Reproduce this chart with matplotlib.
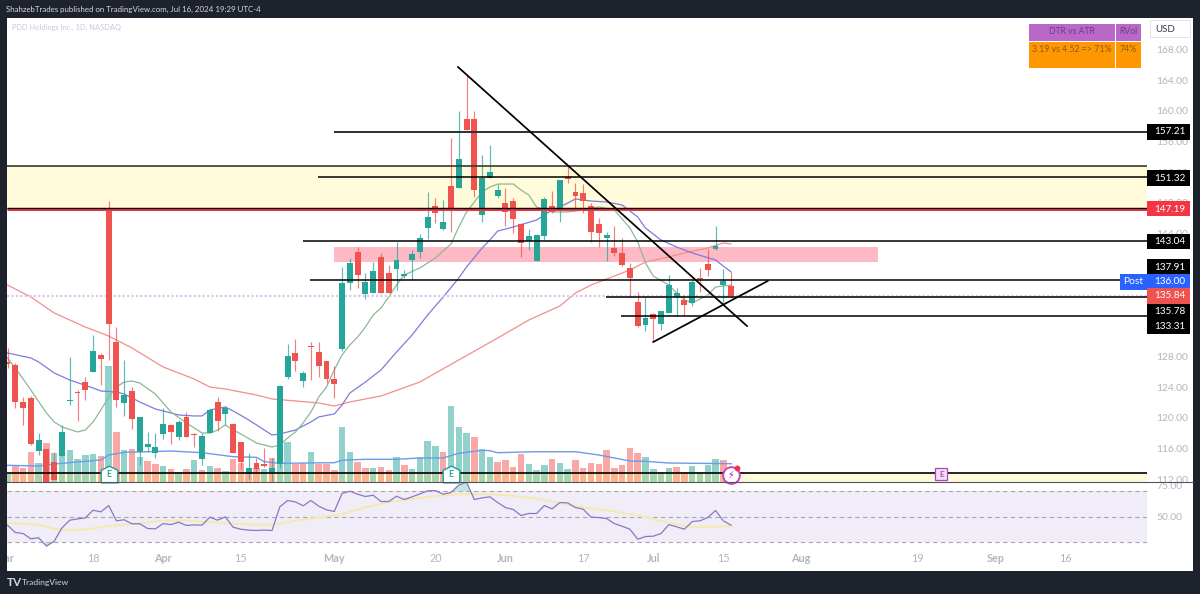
import matplotlib
matplotlib.use("Agg")
import matplotlib.pyplot as plt
from matplotlib.patches import Rectangle
from matplotlib.path import Path as MplPath

W, H = 1200, 594
UP = "#26a69a"
DOWN = "#ef5350"
GREY = "#b2b5be"
DARK = "#1e222d"

bars = list(range(-1, 93))
highs = [129.11, 127.16, 122.73, 122.86, 118.05, 115.96, 115.57, 119.09, 127.94, 123.64,
         125.34, 130.80, 128.46, 148.25, 131.84, 127.55, 124.03, 120.13, 118.18, 118.05,
         121.30, 119.22, 119.74, 120.78, 118.05, 118.05, 121.17, 122.73, 121.56, 119.35,
         116.87, 115.44, 114.79, 116.09, 114.79, 124.29, 129.63, 130.28, 126.12, 129.89,
         129.89, 127.42, 126.77, 139.66, 140.83, 142.26, 138.88, 140.31, 141.48, 139.92,
         142.91, 139.27, 141.87, 143.95, 149.42, 148.64, 148.38, 156.45, 159.97, 164.65,
         159.97, 154.24, 155.54, 150.46, 149.94, 148.64, 145.38, 144.60, 143.95, 148.77,
         149.55, 150.98, 152.81, 150.59, 150.46, 147.99, 146.04, 144.21, 144.99, 143.43,
         140.18, 136.40, 135.75, 133.67, 133.93, 138.62, 136.92, 136.01, 137.96, 139.53,
         142.00, 144.99, 139.40, 139.01]
lows = [126.51, 121.30, 119.09, 116.48, 115.18, 111.66, 111.92, 115.05, 121.69, 119.61,
        122.34, 125.99, 124.29, 127.55, 121.43, 120.26, 118.57, 113.88, 115.57, 114.79,
        117.26, 116.61, 117.13, 117.52, 116.22, 113.88, 118.05, 118.30, 119.09, 115.44,
        113.36, 112.06, 112.84, 113.62, 111.66, 113.49, 125.07, 126.12, 124.03, 124.94,
        125.34, 124.55, 122.60, 128.72, 136.66, 136.92, 135.49, 136.27, 136.27, 136.27,
        136.66, 138.22, 137.96, 140.83, 143.30, 145.38, 144.47, 144.21, 149.94, 157.49,
        148.77, 145.52, 151.24, 148.64, 144.99, 144.08, 140.96, 141.87, 140.44, 143.17,
        146.69, 145.52, 150.59, 147.08, 146.69, 142.91, 142.26, 140.44, 141.09, 139.79,
        135.75, 131.84, 131.32, 129.89, 131.45, 133.67, 133.28, 133.41, 134.58, 136.40,
        138.48, 141.87, 134.97, 135.75]
opens = [127.29, 126.90, 122.08, 122.60, 115.70, 115.96, 114.27, 115.05, 122.21, 123.38,
         124.68, 125.99, 128.20, 147.34, 129.89, 121.95, 123.51, 115.57, 116.22, 115.44,
         117.91, 119.09, 117.52, 120.13, 117.91, 114.66, 118.05, 122.08, 120.52, 119.22,
         116.87, 112.71, 114.14, 114.01, 112.97, 114.01, 125.34, 128.46, 124.81, 129.37,
         128.59, 127.42, 125.07, 128.98, 137.57, 141.61, 136.14, 136.27, 140.96, 138.88,
         139.40, 138.48, 140.57, 141.61, 144.73, 147.60, 144.60, 150.20, 149.94, 158.93,
         158.93, 146.43, 151.24, 148.90, 147.99, 148.25, 145.25, 143.04, 140.44, 143.69,
         147.60, 147.21, 151.37, 149.42, 149.29, 147.60, 145.25, 143.43, 142.13, 141.48,
         139.53, 135.10, 132.10, 133.54, 132.23, 133.67, 135.75, 135.36, 134.97, 138.22,
         140.05, 142.00, 137.31, 137.18]
closes = [127.03, 122.08, 121.30, 116.61, 117.13, 111.66, 111.92, 118.18, 122.34, 123.25,
          123.64, 128.72, 127.68, 132.23, 122.34, 122.99, 119.87, 120.13, 116.61, 116.22,
          119.22, 118.18, 119.48, 117.52, 117.78, 117.65, 121.04, 119.61, 121.30, 115.44,
          114.27, 113.49, 113.36, 113.75, 113.49, 124.16, 128.07, 127.42, 125.86, 129.24,
          126.77, 125.07, 124.42, 137.57, 140.18, 138.62, 137.70, 139.14, 136.27, 136.27,
          140.57, 138.74, 141.35, 143.43, 146.17, 146.69, 145.52, 147.08, 153.72, 157.49,
          149.68, 151.24, 152.03, 149.68, 146.82, 145.91, 142.78, 143.69, 143.82, 148.51,
          146.82, 150.98, 151.11, 148.90, 148.25, 144.21, 144.08, 143.82, 141.48, 139.92,
          138.22, 131.97, 133.02, 132.89, 133.93, 137.31, 136.27, 134.71, 137.70, 138.09,
          139.27, 142.39, 137.83, 135.84]

# volume in relative units, colour read per bar since it does not follow the candle
volumes = [8, 16, 14, 30, 19, 39, 29, 29, 32, 23, 27, 28, 26, 116, 50, 32, 33, 25, 21, 18,
           16, 13, 10, 13, 22, 12, 16, 14, 11, 23, 19, 10, 14, 13, 24, 19, 40, 18, 19, 30,
           18, 18, 12, 55, 30, 20, 14, 14, 15, 12, 25, 17, 13, 25, 41, 36, 30, 76, 55, 49,
           45, 33, 25, 20, 22, 15, 28, 18, 12, 17, 23, 19, 13, 22, 14, 19, 18, 32, 14, 17,
           34, 29, 25, 13, 10, 14, 15, 10, 16, 10, 17, 23, 22, 6]
volume_sides = list("grrrgrgggg" "ggrgrgrgrr" "grgrgrgrgr" "rrrgrggrrg" "rrrggrrgrr"
                    "grggggrggg" "rggrrrrggg" "rggrrrrrrr" "rrggggrrgg" "ggrr")

vol_ma_bars = [-1, 3, 5, 11, 12, 14, 17, 20, 24, 28, 31, 32, 34, 41, 42, 45, 49, 52, 55, 57,
               60, 61, 62, 67, 72, 75, 79, 81, 84, 92]
vol_ma = [16.7, 16, 18, 22, 27, 29.7, 30.3, 31, 29.3, 25.3, 24.7, 20.3, 18.7, 19.3, 21.7,
          22.7, 22.7, 24, 24, 28.7, 31.7, 31.3, 29.3, 30.3, 30.3, 27, 21, 20.7, 19, 18.3]

fast_ma_bars = [-1, 0, 2, 4, 5, 6, 8, 9, 10, 11, 12, 13, 14, 15, 16, 18, 20, 22, 24, 25, 26, 27,
                28, 29, 31, 33, 34, 35, 36, 37, 38, 39, 40, 41, 42, 43, 44, 45, 46, 47, 48, 49,
                50, 52, 54, 56, 57, 58, 60, 61, 62, 64, 65, 66, 67, 69, 71, 72, 75, 77, 79, 80,
                81, 82, 84, 85, 86, 87, 89, 90, 92]
fast_ma = [127.81, 126.51, 123.64, 120.65, 119.48, 118.83, 118.18, 118.43, 119.48, 121.04,
           122.73, 124.03, 124.68, 124.81, 124.55, 123.12, 120.78, 119.35, 118.04, 118.04,
           118.43, 119.09, 118.43, 117.91, 116.74, 116.22, 116.48, 117.39, 118.17, 119.35,
           120.78, 122.73, 124.03, 126.25, 128.20, 129.50, 130.54, 131.84, 133.41, 134.32,
           135.75, 137.31, 138.62, 139.53, 140.83, 142.65, 144.86, 146.82, 149.42, 150.07,
           150.46, 150.46, 149.68, 149.03, 147.47, 146.82, 146.82, 146.95, 147.47, 147.08,
           144.73, 142.91, 140.18, 138.48, 137.31, 136.27, 135.36, 134.97, 136.01, 137.05,
           137.31]

mid_ma_bars = [-1, 2, 3, 5, 7, 10, 11, 13, 14, 16, 18, 21, 23, 24, 25, 27, 28, 30, 32, 33, 34,
               36, 38, 39, 41, 42, 43, 45, 47, 49, 51, 53, 55, 57, 58, 60, 61, 62, 64, 67, 69,
               70, 72, 74, 76, 78, 80, 81, 83, 85, 87, 90, 92]
mid_ma = [128.46, 127.81, 127.29, 125.86, 124.94, 123.90, 123.51, 123.38, 123.12, 122.08,
          121.17, 120.39, 120.26, 120.26, 121.04, 121.43, 120.91, 119.74, 118.43, 117.78,
          117.91, 118.43, 119.48, 120.13, 120.52, 121.69, 123.25, 124.68, 126.25, 128.59,
          130.80, 133.41, 135.75, 138.22, 139.66, 142.13, 143.17, 144.34, 144.86, 145.77,
          147.08, 147.47, 148.51, 148.25, 148.12, 147.73, 146.17, 144.73, 143.17, 142.26,
          141.48, 140.57, 139.01]

slow_ma_bars = [-1, 2, 5, 9, 12, 15, 19, 23, 25, 27, 31, 33, 36, 39, 41, 43, 47, 52, 57, 62, 66,
                70, 72, 74, 76, 79, 81, 84, 86, 89, 91, 92]
slow_ma = [137.31, 135.75, 133.67, 131.84, 130.67, 129.11, 126.64, 125.07, 124.03, 123.77,
           122.99, 122.47, 122.21, 121.95, 121.56, 122.08, 122.86, 124.68, 127.55, 130.41,
           132.75, 134.58, 136.27, 137.31, 138.09, 139.27, 140.31, 140.96, 141.48, 142.13,
           142.78, 142.65]

rsi = [43.1, 37.3, 36.5, 32.3, 33.1, 26.5, 30.4, 41.0, 47.1, 48.1, 48.9, 55.0, 53.7, 58.7,
       46.6, 47.4, 44.2, 44.2, 40.5, 40.2, 44.4, 43.6, 45.5, 42.9, 43.4, 43.1, 49.5, 47.1,
       49.7, 41.5, 39.9, 39.2, 38.9, 39.2, 38.9, 57.7, 62.7, 61.6, 58.5, 62.7, 58.2, 55.3,
       54.0, 68.3, 70.1, 67.7, 65.9, 66.9, 61.9, 61.9, 66.1, 63.5, 65.6, 68.0, 70.4, 70.6,
       67.7, 69.1, 74.9, 77.3, 63.5, 64.8, 65.6, 61.1, 57.1, 55.6, 50.8, 52.4, 52.4, 58.7,
       56.1, 61.1, 60.8, 57.1, 55.8, 49.5, 49.2, 48.4, 44.4, 42.3, 39.9, 32.0, 34.1, 34.4,
       36.5, 43.6, 41.8, 39.9, 46.0, 46.6, 49.2, 54.8, 46.6, 43.1]
rsi_ma_bars = [-1, 3, 5, 7, 9, 12, 15, 19, 22, 26, 30, 33, 36, 39, 42, 45, 48, 50, 53, 57, 61,
               64, 68, 72, 76, 80, 84, 87, 90, 92]
rsi_ma = [45.0, 43.4, 40.2, 38.9, 39.7, 42.3, 44.2, 46.6, 46.8, 45.2, 43.6, 43.4, 46.6, 49.2,
          51.9, 57.4, 61.6, 63.0, 65.6, 67.7, 67.7, 66.4, 63.2, 58.2, 54.8, 51.1, 45.0, 41.8,
          41.8, 42.6]

# drawings on the chart
level_prices = [157.21, 151.32, 143.04, 137.91, 135.78, 133.31]
level_starts = [41.0, 38.9, 37.0, 37.9, 75.9, 77.8]
zone_top = 152.8
zone_bottom = 147.19
low_zone_top = 112.8
pink_top, pink_bottom = 142.26, 140.31
pink_start, pink_end = 41.0, 110.9
down_trend_x, down_trend_y = [56.9, 94.05], [165.7, 131.97]
up_trend_x, up_trend_y = [82, 96.7], [129.89, 137.83]
last_close = 135.84
earnings_bars = [12, 56]
next_earnings_bar = 119

# 132, 136 and 140 sit fully behind the tags in the reference
price_ticks = [112, 116, 120, 124, 128, 144, 148, 152, 156, 160, 164, 168]
rsi_ticks = [50, 75]
time_ticks = [-1.4, 10, 19, 29, 41, 54, 63, 73, 82, 91, 101, 116, 126, 135]
time_labels = ["Mar", "18", "Apr", "15", "May", "20", "Jun", "17", "Jul", "15", "Aug", "19", "Sep", "16"]
month_labels = {"Mar", "Apr", "May", "Jun", "Jul", "Aug", "Sep"}

# stacked tags on the price scale
tag_texts = ["157.21", "151.32", "147.19", "143.04", "137.91", "136.00", "135.84", "135.78", "133.31"]
tag_colors = ["#000000", "#000000", "#f23645", "#000000", "#000000", "#2962ff", "#ef5350", "#000000", "#000000"]
tag_rows = [132, 178, 209, 242, 267, 282, 296, 311, 326]

plt.rcParams["font.family"] = ["Lato", "DejaVu Sans"]

fig = plt.figure(figsize=(12, 5.94), dpi=100, facecolor=DARK)


def rect_fig(x0, y0, x1, y1):
    return [x0 / W, 1 - y1 / H, (x1 - x0) / W, (y1 - y0) / H]


def fig_box(x0, y0, x1, y1, color, z=5, edge="none", lw=0):
    fig.add_artist(Rectangle((x0 / W, 1 - y1 / H), (x1 - x0) / W, (y1 - y0) / H, transform=fig.transFigure,
                             facecolor=color, edgecolor=edge, linewidth=lw, zorder=z))


def fig_label(x, y, s, color, size=7.1, ha="center", z=6, **kw):
    fig.text(x / W, 1 - y / H, s, color=color, fontsize=size, ha=ha, va="center", zorder=z, **kw)


fig_box(7, 18, 1193, 571, "white", z=-1)

# axes: pixel rows 18-482 for the price pane, 482-571 for rsi + time labels
X_LEFT, X_RIGHT = -1.067, 145.46
ax_vol = fig.add_axes(rect_fig(7, 18, 1147, 482), zorder=1)
ax = fig.add_axes(rect_fig(7, 18, 1147, 482), zorder=2)
ax_rsi = fig.add_axes(rect_fig(7, 482, 1147, 571), zorder=2)
for a in (ax_vol, ax, ax_rsi):
    a.patch.set_visible(False)
    for s in a.spines.values():
        s.set_visible(False)
    a.set_xlim(X_LEFT, X_RIGHT)
    a.set_xticks([])

ax_vol.set_ylim(0, 464)
ax_vol.set_yticks([])
vol_colors = ["#92d2cc" if s == "g" else "#f9a8a6" for s in volume_sides]
ax_vol.bar(bars, volumes, width=0.83, color=vol_colors, linewidth=0)
ax_vol.plot(vol_ma_bars, vol_ma, color="#6c9cec", lw=1.0)

ax.set_ylim(111.66, 172.08)
ax.yaxis.tick_right()
ax.set_yticks(price_ticks)
ax.set_yticklabels([f"{p:.2f}" for p in price_ticks])
ax.tick_params(axis="y", length=0, pad=6.5, labelsize=7.4, labelcolor=GREY)

ax.axhspan(zone_bottom, zone_top, color="#ffeb3b", alpha=0.18, lw=0, zorder=1)
ax.axhspan(111.66, low_zone_top, color="#ffeb3b", alpha=0.18, lw=0, zorder=1)
ax.fill_between([pink_start, pink_end], pink_bottom, pink_top, color="#fdb9c4", lw=0, zorder=1)

ax.plot(slow_ma_bars, slow_ma, color="#f08f8d", lw=0.9, zorder=2)
ax.plot(mid_ma_bars, mid_ma, color="#7f7be0", lw=0.9, zorder=2)
ax.plot(fast_ma_bars, fast_ma, color="#8db896", lw=0.9, zorder=2)

candle_colors = [UP if c >= o else DOWN for o, c in zip(opens, closes)]
ax.vlines(bars, lows, highs, colors=candle_colors, lw=0.85, alpha=0.75, zorder=3)
ax.bar(bars, [max(abs(c - o), 0.12) for o, c in zip(opens, closes)], bottom=[min(o, c) for o, c in zip(opens, closes)],
       width=0.76, color=candle_colors, linewidth=0, zorder=4)

ax.hlines(last_close, X_LEFT, X_RIGHT, colors="#d6c8e6", lw=1.6, linestyles=(0, (1, 1)), zorder=2)
ax.hlines(level_prices, level_starts, X_RIGHT, colors="black", lw=1.1, zorder=6)
ax.hlines(level_prices[0], level_starts[0], X_RIGHT, colors="#333333", lw=1.4, zorder=6)
ax.hlines(zone_top, X_LEFT, X_RIGHT, colors="#3a3a30", lw=1.2, zorder=6)
ax.hlines(zone_bottom, X_LEFT, X_RIGHT, colors="#f23645", lw=2.2, zorder=6)
ax.hlines(zone_bottom + 0.16, X_LEFT, X_RIGHT, colors="black", lw=1.0, zorder=7)
ax.hlines(low_zone_top, X_LEFT, X_RIGHT, colors="black", lw=1.2, zorder=6)
ax.plot(down_trend_x, down_trend_y, color="black", lw=1.25, zorder=7)
ax.plot(up_trend_x, up_trend_y, color="black", lw=1.25, zorder=7)

# event markers along the bottom of the price pane
house = MplPath([(-1, -1), (1, -1), (1, 0.5), (0, 1), (-1, 0.5), (-1, -1)])
for b in earnings_bars:
    ax.plot([b], [112.7], marker=house, ms=12, mfc="white", mec=UP, mew=1.1, zorder=8, clip_on=False)
    ax.text(b, 112.7, "E", color=UP, fontsize=6.5, fontweight="bold", ha="center", va="center", zorder=9)
ax.plot([next_earnings_bar], [112.7], marker="s", ms=8.5, mfc="#f3e0f7", mec="#ab47bc", mew=0.9, zorder=8)
ax.text(next_earnings_bar, 112.7, "E", color="#8e24aa", fontsize=6, ha="center", va="center", zorder=9)
ax.plot([92], [112.55], marker="o", ms=12, mfc="white", mec="#c048c8", mew=1.4, zorder=8, clip_on=False)
ax.text(92, 112.55, "\u26a1", color="#8e24aa", fontsize=7, family="DejaVu Sans", ha="center", va="center", zorder=9)
ax.plot([92.8], [113.45], marker="o", ms=3.2, color="#ef2f4f", zorder=9)

ax_rsi.set_ylim(6.75, 77.4)
ax_rsi.yaxis.tick_right()
ax_rsi.set_yticks(rsi_ticks)
ax_rsi.set_yticklabels([f"{r:.2f}" for r in rsi_ticks])
ax_rsi.tick_params(axis="y", length=0, pad=6.5, labelsize=7.4, labelcolor=GREY)
ax_rsi.axhspan(30, 70, color="#f0edf9", lw=0, zorder=1)
for level in (70, 50, 30):
    ax_rsi.axhline(level, color="#a9a3b3", lw=0.8, ls=(0, (4, 3)), zorder=2)
ax_rsi.fill_between(bars, 70, rsi, where=[r > 70 for r in rsi], color="#9fd8c8", alpha=0.6, lw=0, zorder=2, interpolate=True)
ax_rsi.fill_between(bars, 30, rsi, where=[r < 30 for r in rsi], color="#9fd8c8", alpha=0.6, lw=0, zorder=2, interpolate=True)
ax_rsi.plot(rsi_ma_bars, rsi_ma, color="#f6e9ae", lw=1.4, zorder=3)
ax_rsi.plot(bars, rsi, color="#8a78c0", lw=0.9, zorder=4)

for t, lab in zip(time_ticks, time_labels):
    ax_rsi.text(t, 0.135, lab, transform=ax_rsi.get_xaxis_transform(), color=GREY, fontsize=7.8, ha="center", va="center",
                fontweight="bold" if lab in month_labels else "normal", clip_on=True)

# pane separator
fig.add_artist(plt.Line2D([7 / W, 1193 / W], [1 - 482 / H, 1 - 482 / H], color="#50535e", lw=0.8, zorder=4))

# price scale tags
for text, color, row in zip(tag_texts, tag_colors, tag_rows):
    fig_box(1147, row - 7.5, 1190, row + 7.5, color)
    fig_label(1170, row, text, "white", size=7.2)
fig_box(1120, 274.5, 1147, 289.5, "#2962ff")
fig_label(1133, 282, "Post", "white", size=7.4)

fig_box(1150, 20, 1190, 37, "white", edge="#e0e3eb", lw=0.7)
fig_label(1165, 29, "USD", "#3a3e4a", size=7)

# stats table, top right
fig_box(1029, 24, 1115, 41, "#ba68c8")
fig_box(1116, 24, 1141, 41, "#ba68c8")
fig_box(1029, 42, 1115, 68, "#ff9800")
fig_box(1116, 42, 1141, 68, "#ff9800")
fig_label(1072, 32, "DTR vs ATR", "#6a3d8a", size=6.2)
fig_label(1128, 32, "RVol", "#6a3d8a", size=6.2)
fig_label(1072, 50, "3.19 vs 4.52 => 71%", "#8a5a10", size=6.3)
fig_label(1128, 50, "74%", "#8a5a10", size=6.3)

fig_label(6, 9.5, "ShahzebTrades published on TradingView.com, Jul 16, 2024 19:29 UTC-4", "#d6d8de", size=5.7, ha="left")
fig_label(12, 27.5, "PDD Holdings Inc., 1D, NASDAQ", "#c8cad0", size=5.4, ha="left")
fig_label(7, 582, "TV", "#d1d4dc", size=8.5, ha="left", fontweight="bold")
fig_label(22, 582, "TradingView", "#d1d4dc", size=6.1, ha="left")

fig.savefig("out.png", dpi=100, facecolor=fig.get_facecolor())
